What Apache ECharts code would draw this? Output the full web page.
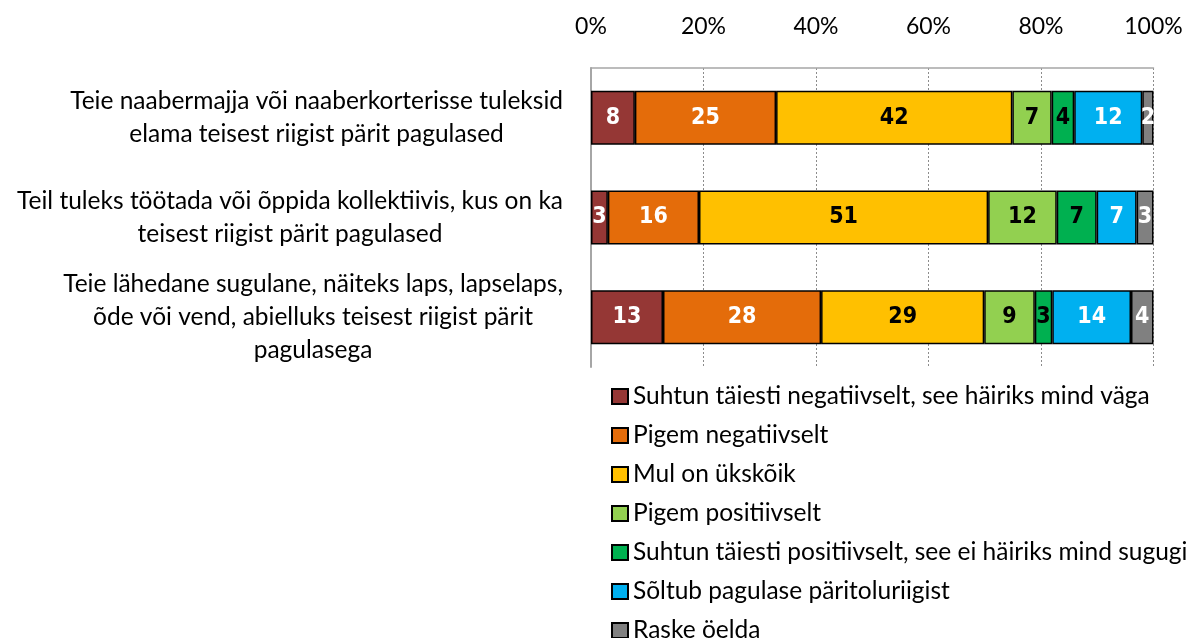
<!DOCTYPE html>
<html>
<head>
<meta charset="utf-8">
<script src="https://cdn.jsdelivr.net/npm/echarts@6/dist/echarts.min.js"></script>
<style>
  html, body { margin: 0; padding: 0; background: #fff; }
  #chart { width: 1195px; height: 638px; }
</style>
</head>
<body>
<div id="chart"></div>
<script>
// questions (rows, top to bottom)
const categories = [
  'Teie naabermajja või naaberkorterisse tuleksid\nelama teisest riigist pärit pagulased',
  'Teil tuleks töötada või õppida kollektiivis, kus on ka\nteisest riigist pärit pagulased',
  'Teie lähedane sugulane, näiteks laps, lapselaps,\nõde või vend, abielluks teisest riigist pärit\npagulasega'
];

const seriesNames = [
  'Suhtun täiesti negatiivselt, see häiriks mind väga',
  'Pigem negatiivselt',
  'Mul on ükskõik',
  'Pigem positiivselt',
  'Suhtun täiesti positiivselt, see ei häiriks mind sugugi',
  'Sõltub pagulase päritoluriigist',
  'Raske öelda'
];

// shares in %, one value per row
const veryNegative     = [7.8, 3.0, 12.8];
const ratherNegative   = [25.1, 16.2, 28.1];
const indifferent      = [42.0, 51.4, 29.0];
const ratherPositive   = [7.0, 12.2, 9.0];
const veryPositive     = [4.0, 7.1, 3.1];
const dependsOnCountry = [12.1, 7.1, 14.0];
const hardToSay        = [2.0, 3.0, 4.0];

const xTicks = [0, 20, 40, 60, 80, 100];

const colors = ['#953735', '#E46C0A', '#FFC000', '#92D050', '#00B050', '#00B0F0', '#808080'];
const labelColors = ['#fff', '#fff', '#000', '#000', '#000', '#fff', '#fff'];
const values = [veryNegative, ratherNegative, indifferent, ratherPositive, veryPositive, dependsOnCountry, hardToSay];

let myChart = echarts.init(document.getElementById('chart'));

let series = seriesNames.map(function (name, i) {
  return {
    name: name,
    type: 'bar',
    stack: 'total',
    barWidth: 54,
    data: values[i],
    itemStyle: {
      color: colors[i],
      borderColor: '#000',
      borderWidth: 1.5
    },
    label: {
      show: true,
      position: 'inside',
      formatter: function (p) { return Math.round(p.value); },
      color: labelColors[i],
      fontWeight: 'bold',
      fontSize: 23,
      fontFamily: '"Liberation Sans Narrow", "DejaVu Sans Condensed", "Arial Narrow", "Liberation Sans", sans-serif'
    },
    emphasis: { disabled: true }
  };
});

let option = {
  animation: false,
  color: colors,
  grid: {
    left: 591,
    right: 41.5,
    top: 68,
    bottom: 271
  },
  legend: {
    orient: 'vertical',
    left: 606,
    top: 379,
    height: 300,
    icon: 'rect',
    itemWidth: 16,
    itemHeight: 15,
    itemGap: 14,
    selectedMode: false,
    textStyle: {
      fontFamily: 'Lato',
      fontSize: 24.5,
      color: '#000'
    },
    data: seriesNames
  },
  xAxis: {
    type: 'value',
    position: 'top',
    min: xTicks[0],
    max: xTicks[xTicks.length - 1],
    interval: xTicks[1] - xTicks[0],
    axisLine: { show: true, lineStyle: { color: '#a6a6a6', width: 1.5 } },
    axisTick: { show: false },
    axisLabel: {
      formatter: '{value}%',
      fontFamily: 'Lato',
      fontSize: 23,
      color: '#000',
      margin: 30
    },
    splitLine: {
      show: true,
      lineStyle: { color: '#8c8c8c', width: 1, type: [2, 2] }
    }
  },
  yAxis: {
    type: 'category',
    inverse: true,
    data: categories,
    axisLine: { show: true, lineStyle: { color: '#a6a6a6', width: 2 } },
    axisTick: { show: false },
    axisLabel: {
      align: 'right',
      margin: 28,
      formatter: function (v) {
        return v.split('\n').map(function (l) { return '{c|' + l + '}'; }).join('\n');
      },
      rich: {
        c: {
          align: 'center',
          fontFamily: 'Lato',
          fontSize: 24.5,
          lineHeight: 33,
          color: '#000'
        }
      }
    }
  },
  series: series
};

myChart.setOption(option);
</script>
</body>
</html>
